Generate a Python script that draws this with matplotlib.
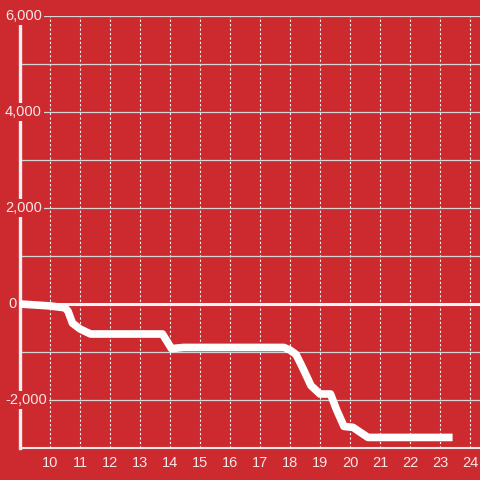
import matplotlib
matplotlib.use('Agg')
import matplotlib.pyplot as plt
import matplotlib.transforms as mtransforms

# hour of day vs running value
hours = [9.0, 10.0, 10.5, 10.6, 10.75, 11.0, 11.35, 13.0, 13.75, 14.05, 14.45,
         17.8, 18.0, 18.2, 18.4, 18.7, 19.0, 19.35, 19.55, 19.8, 20.1, 20.6, 23.42]
values = [0, -40, -80, -150, -400, -520, -625, -625, -625, -930, -905,
          -905, -960, -1050, -1300, -1700, -1875, -1875, -2200, -2550, -2570, -2780, -2780]

y_labels = [6000, 4000, 2000, 0, -2000]
y_grid = [-2000, -1000, 1000, 2000, 3000, 4000, 5000, 6000]
x_ticks = list(range(10, 25))

bg = '#cc2a2f'
txt = '#f8e6e6'

fig = plt.figure(figsize=(4.8, 4.8), dpi=100, facecolor=bg)
ax = fig.add_axes([20/480, 32/480, 460/480, 432/480], facecolor=bg)
ax.set_xlim(9, 24 + 1/3)
ax.set_ylim(-3000, 6000)

for x in x_ticks:
    ax.axvline(x, color='#f4f4f4', lw=0.8, dashes=(2, 2), zorder=1)
for y in y_grid:
    ax.axhline(y, color='#d6d6d6', lw=0.9, zorder=1)
ax.axhline(0, color='#f4f4f4', lw=2.2, zorder=2)

ax.plot(hours, values, color='white', lw=5.5, solid_joinstyle='round',
        solid_capstyle='butt', zorder=3)

for s in ['top', 'right']:
    ax.spines[s].set_visible(False)
ax.spines['left'].set_color('#f0f0f0')
ax.spines['left'].set_linewidth(2.4)
ax.spines['bottom'].set_color('#e8e8e8')
ax.spines['bottom'].set_linewidth(1.5)

ax.set_yticks([])
ax.set_xticks(x_ticks)
ax.tick_params(axis='x', length=0, pad=6, labelsize=10.5, labelcolor=txt)
for lab in ax.get_xticklabels():
    lab.set_family('Liberation Sans')

trans = mtransforms.blended_transform_factory(fig.transFigure, ax.transData)
for y in y_labels:
    ax.text(5/480 if y != 0 else 8/480, y, f'{y:,}',
            transform=trans, ha='left', va='center', fontsize=10.5,
            color=txt, family='Liberation Sans', zorder=5, clip_on=False,
            bbox=dict(facecolor=bg, edgecolor='none', pad=1.5))

fig.savefig('out.png', dpi=100, facecolor=bg)
